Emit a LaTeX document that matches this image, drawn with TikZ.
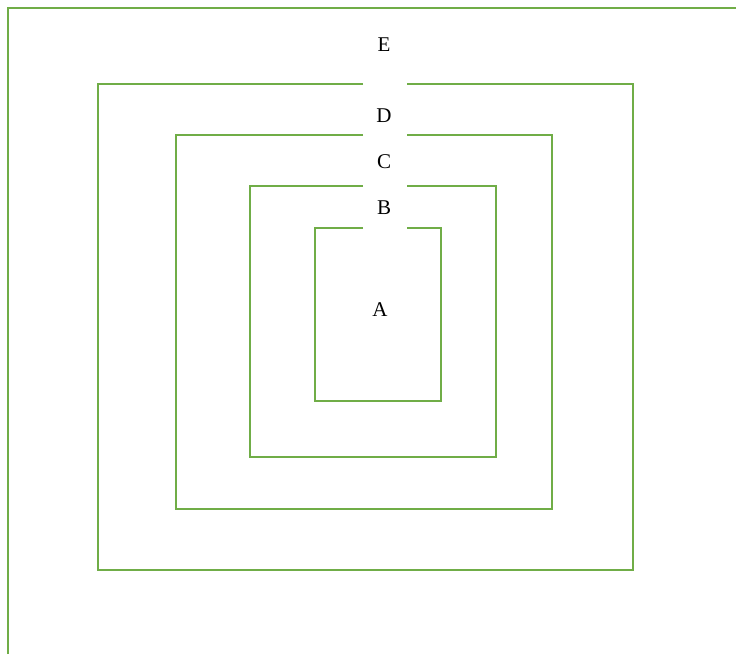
\documentclass[tikz,border=0pt]{standalone}
\usepackage{fontspec}
\setmainfont{Liberation Serif}
\definecolor{boxgreen}{HTML}{70AD47}

\begin{document}
\begin{tikzpicture}[x=1pt, y=-1pt,
    frame/.style={draw=boxgreen, line width=1.3pt},
    lab/.style={font=\fontsize{21}{24}\selectfont, inner sep=0pt}]
    \useasboundingbox (0,0) rectangle (736,654);

    % Outer corner frame
    \draw [frame, line width=1.6pt] (8,654) -- (8,8) -- (736,8);

    % Nested boxes, open at the top
    \foreach \l/\r/\t/\b in {98/633/84/570, 176/552/135/509, 250/496/186/457, 315/441/228/401}
        \draw [frame] (363,\t) -- (\l,\t) -- (\l,\b) -- (\r,\b) -- (\r,\t) -- (407,\t);

    % Labels
    \node [lab] (labE) at (384,45) {E};
    \node [lab] (labD) at (384,116) {D};
    \node [lab] (labC) at (384,162) {C};
    \node [lab] (labB) at (384,208) {B};
    \node [lab] (labA) at (380,310) {A};
\end{tikzpicture}
\end{document}
